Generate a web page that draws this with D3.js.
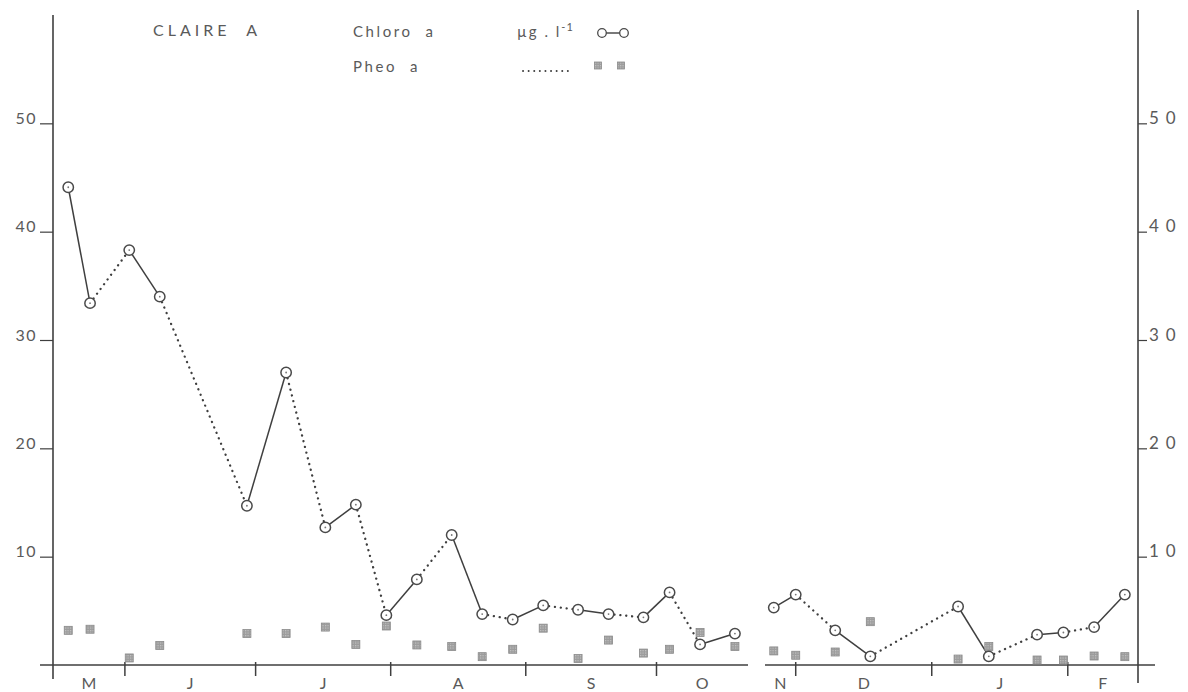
<!DOCTYPE html>
<html>
<head>
<meta charset="utf-8">
<script src="https://cdn.jsdelivr.net/npm/d3@7"></script>
<style>
  html, body { margin: 0; padding: 0; background: #fff; }
  svg { display: block; }
  text { font-family: Lato, "Open Sans", "DejaVu Sans", sans-serif; font-weight: 400; fill: #5a5a5a; }
</style>
</head>
<body>
<svg id="chart" width="1188" height="692"></svg>
<script>
// Sampling dates, in days counted from 1 June (negative = late May)
const sampleDays = [-13, -8, 1, 8, 28, 37, 46, 53, 60, 67, 75, 82, 89, 96, 104, 111, 119, 125, 132, 140,
                    178, 183, 192, 200, 220, 227, 238, 244, 251, 258];
// Chlorophyll a, µg/l
const chloroA = [44.1, 33.4, 38.3, 34.0, 14.7, 27.0, 12.7, 14.8, 4.6, 7.9, 12.0, 4.7, 4.2, 5.5, 5.1, 4.7, 4.4, 6.7, 1.9, 2.9,
                 5.3, 6.5, 3.2, 0.8, 5.4, 0.8, 2.8, 3.0, 3.5, 6.5];
// Pheopigments a, µg/l
const pheoA = [3.2, 3.3, 0.65, 1.8, 2.9, 2.9, 3.5, 1.9, 3.6, 1.85, 1.7, 0.77, 1.45, 3.4, 0.6, 2.3, 1.1, 1.45, 3.0, 1.7,
               1.3, 0.9, 1.2, 4.0, 0.55, 1.7, 0.46, 0.46, 0.83, 0.77];

// Month initials and the day each month begins (same origin as sampleDays)
const monthNames = ["M", "J", "J", "A", "S", "O", "N", "D", "J", "F"];
const monthStarts = [-31, 0, 30, 61, 92, 122, 153, 183, 214, 245, 273];

// The time axis is broken between late October and late November
const axisPieces = [[-16.5, 143], [176, 261]];
const yTicks = [10, 20, 30, 40, 50];

const svg = d3.select("#chart");
const ink = "#3f3f3f";

const x = d3.scaleLinear()
  .domain([axisPieces[0][0], axisPieces[0][1], axisPieces[1][0], axisPieces[1][1]])
  .range([53, 748, 765, 1138]);
const y = d3.scaleLinear().domain([0, 60]).range([665, 15]);

const pieceOf = d => axisPieces.findIndex(p => d >= p[0] && d <= p[1]);

// hatched fill used for the pheopigment squares
const pat = svg.append("defs").append("pattern").attr("id", "hatch")
  .attr("patternUnits", "userSpaceOnUse").attr("width", 2.5).attr("height", 2.5);
pat.append("rect").attr("width", 2.5).attr("height", 2.5).attr("fill", "#9c9c9c");
pat.append("rect").attr("width", 1.2).attr("height", 1.2).attr("fill", "#c4c4c4");

// ---- axes ----
const base = y(0);
// baseline, drawn as two pieces with a gap at the break
svg.append("line").attr("x1", x(axisPieces[0][0]) - 13).attr("x2", x(axisPieces[0][1]))
  .attr("y1", base).attr("y2", base).attr("stroke", ink).attr("stroke-width", 1.4);
svg.append("line").attr("x1", x(axisPieces[1][0])).attr("x2", x(axisPieces[1][1]) + 17)
  .attr("y1", base).attr("y2", base).attr("stroke", ink).attr("stroke-width", 1.4);

// left vertical axis
const left = svg.append("g").attr("transform", `translate(${x(axisPieces[0][0])},0)`)
  .call(d3.axisLeft(y).tickValues(yTicks).tickSize(13).tickPadding(3));
left.select(".domain").remove();
left.selectAll(".tick line").attr("stroke", ink).attr("stroke-width", 1.2);
left.selectAll(".tick text").attr("dy", 0).attr("font-size", 16).attr("letter-spacing", 1.5)
  .style("fill", "#5a5a5a").attr("font-family", null);
svg.append("line").attr("x1", x(axisPieces[0][0])).attr("x2", x(axisPieces[0][0]))
  .attr("y1", y(60)).attr("y2", base + 14).attr("stroke", ink).attr("stroke-width", 1.6);

// right vertical axis
const right = svg.append("g").attr("transform", `translate(${x(axisPieces[1][1])},0)`)
  .call(d3.axisRight(y).tickValues(yTicks).tickSize(9).tickPadding(2));
right.select(".domain").remove();
right.selectAll(".tick line").attr("stroke", ink).attr("stroke-width", 1.2);
right.selectAll(".tick text").attr("dy", 0).attr("font-size", 17).attr("letter-spacing", 7)
  .style("fill", "#5a5a5a").attr("font-family", null);
svg.append("line").attr("x1", x(axisPieces[1][1])).attr("x2", x(axisPieces[1][1]))
  .attr("y1", y(60) - 5).attr("y2", base + 18).attr("stroke", ink).attr("stroke-width", 1.6);

// month boundary ticks
const boundaries = monthStarts.filter(d => pieceOf(d) >= 0 && d !== axisPieces[0][0] && d !== axisPieces[1][1]);
svg.selectAll(".mtick").data(boundaries).join("line")
  .attr("class", "mtick")
  .attr("x1", d => x(d)).attr("x2", d => x(d))
  .attr("y1", base - 3).attr("y2", base + 11)
  .attr("stroke", ink).attr("stroke-width", 1.5);

// month initials, centred on the visible part of each month
const monthLabels = monthNames.map((name, i) => {
  let a = monthStarts[i], b = monthStarts[i + 1];
  const p = axisPieces.find(q => b > q[0] && a < q[1]);
  a = Math.max(a, p[0]); b = Math.min(b, p[1]);
  return { name, day: (a + b) / 2 };
});
svg.selectAll(".mlabel").data(monthLabels).join("text")
  .attr("class", "mlabel")
  .attr("x", d => x(d.day)).attr("y", 689)
  .attr("text-anchor", "middle").attr("font-size", 16)
  .text(d => d.name);

// ---- chlorophyll a: pairs joined by a solid line, successive pairs by a dotted line ----
const pts = sampleDays.map((d, i) => ({ day: d, chl: chloroA[i], phe: pheoA[i], i }));
const segs = d3.pairs(pts).filter(([a, b]) => pieceOf(a.day) === pieceOf(b.day));
svg.selectAll(".seg").data(segs).join("line")
  .attr("class", "seg")
  .attr("x1", d => x(d[0].day)).attr("y1", d => y(d[0].chl))
  .attr("x2", d => x(d[1].day)).attr("y2", d => y(d[1].chl))
  .attr("stroke", ink)
  .attr("stroke-width", d => d[0].i % 2 === 0 ? 1.5 : 2.3)
  .attr("stroke-linecap", d => d[0].i % 2 === 0 ? "butt" : "round")
  .attr("stroke-dasharray", d => d[0].i % 2 === 0 ? null : "0.1 5.8");

// ---- pheopigments: small hatched squares ----
const sq = 8;
svg.selectAll(".pheo").data(pts).join("rect")
  .attr("class", "pheo")
  .attr("x", d => x(d.day) - sq / 2).attr("y", d => y(d.phe) - sq / 2)
  .attr("width", sq).attr("height", sq)
  .attr("fill", "url(#hatch)").attr("stroke", "#8a8a8a").attr("stroke-width", 0.8);

// chlorophyll circles on top
const dots = svg.selectAll(".chl").data(pts).join("g").attr("class", "chl")
  .attr("transform", d => `translate(${x(d.day)},${y(d.chl)})`);
dots.append("circle").attr("r", 5.2).attr("fill", "#fff").attr("stroke", "#4a4a4a").attr("stroke-width", 1.5);
dots.append("circle").attr("r", 0.9).attr("fill", "#777");

// ---- title and legend ----
svg.append("text").attr("x", 153).attr("y", 36).attr("font-size", 16).attr("letter-spacing", 4)
  .attr("xml:space", "preserve").text("CLAIRE  A");
svg.append("text").attr("x", 353).attr("y", 37).attr("font-size", 15).attr("letter-spacing", 2.6)
  .attr("xml:space", "preserve").text("Chloro  a");
svg.append("text").attr("x", 353).attr("y", 72).attr("font-size", 15).attr("letter-spacing", 2.6)
  .attr("xml:space", "preserve").text("Pheo  a");
const unit = svg.append("text").attr("x", 517).attr("y", 37).attr("font-size", 15).attr("letter-spacing", 2)
  .attr("xml:space", "preserve");
unit.append("tspan").text("µg . l");
unit.append("tspan").attr("dy", -6).attr("font-size", 11).attr("letter-spacing", 1).text("-1");

// legend glyph: circle–line–circle
const lg = svg.append("g").attr("transform", "translate(602,33)");
lg.append("line").attr("x1", 0).attr("x2", 22).attr("stroke", ink).attr("stroke-width", 1.4);
lg.selectAll("circle").data([0, 22]).join("circle")
  .attr("cx", d => d).attr("r", 4.3).attr("fill", "#fff").attr("stroke", "#4a4a4a").attr("stroke-width", 1.3);

// legend glyph: dotted line and two squares
svg.append("line").attr("x1", 523).attr("x2", 573).attr("y1", 71).attr("y2", 71)
  .attr("stroke", ink).attr("stroke-width", 1.9).attr("stroke-linecap", "round").attr("stroke-dasharray", "0.1 5.5");
svg.selectAll(".lsq").data([598, 621]).join("rect").attr("class", "lsq")
  .attr("x", d => d - 3.5).attr("y", 62).attr("width", 7).attr("height", 7)
  .attr("fill", "url(#hatch)").attr("stroke", "#8a8a8a").attr("stroke-width", 0.8);
</script>
</body>
</html>
